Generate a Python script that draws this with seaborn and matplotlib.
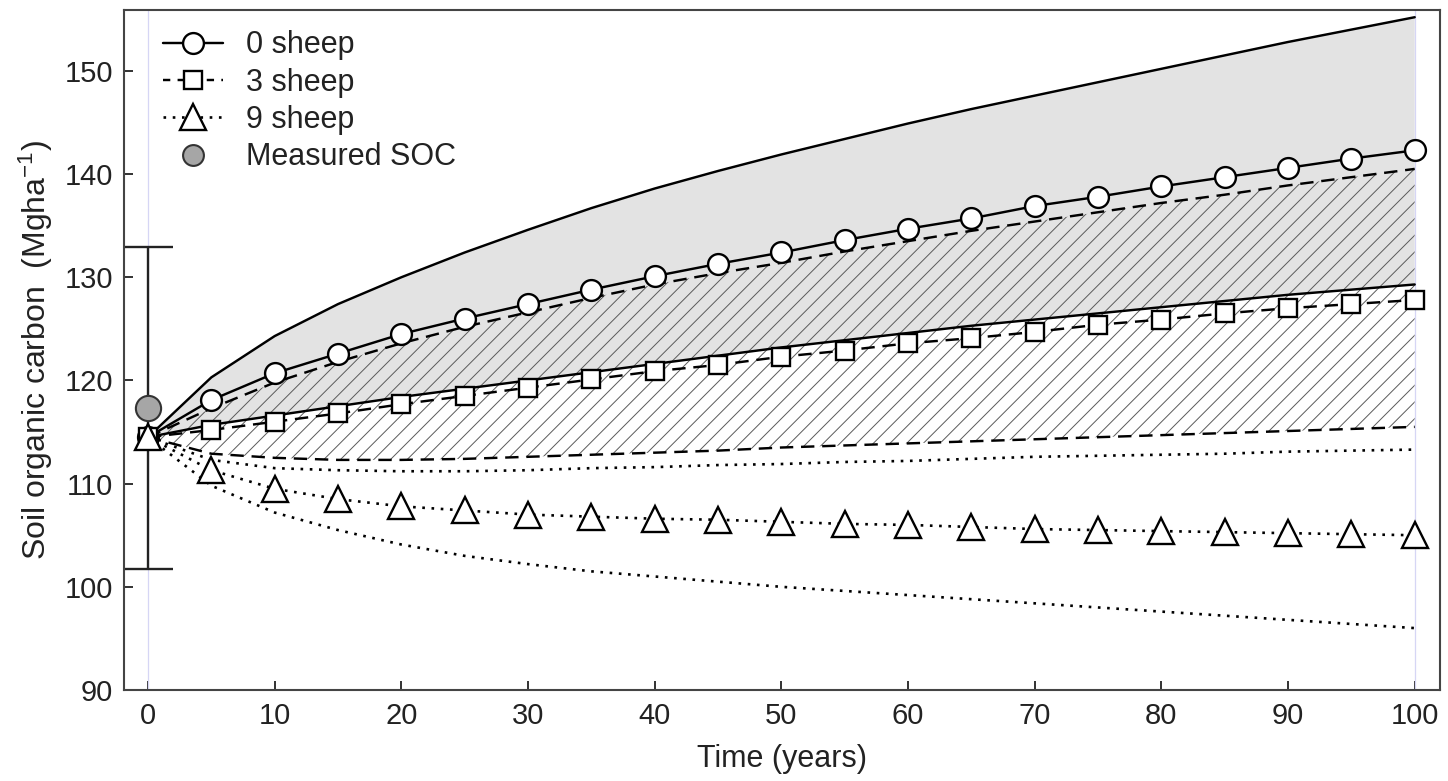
import numpy as np
import pandas as pd
import matplotlib
matplotlib.use("Agg")
import matplotlib.pyplot as plt
from matplotlib.lines import Line2D
import seaborn as sns

# ---------------- data ----------------
years = [0, 5, 10, 15, 20, 25, 30, 35, 40, 45, 50, 55, 60, 65, 70, 75, 80, 85, 90, 95, 100]

sheep0_mean = [114.5, 118.1, 120.7, 122.6, 124.5, 126.0, 127.4, 128.8, 130.1, 131.3, 132.4,
               133.6, 134.7, 135.7, 136.9, 137.8, 138.8, 139.7, 140.6, 141.5, 142.3]
sheep0_upper = [114.5, 120.3, 124.3, 127.4, 130.0, 132.4, 134.6, 136.7, 138.6, 140.3, 141.9,
                143.4, 144.9, 146.3, 147.6, 148.9, 150.2, 151.5, 152.8, 154.0, 155.2]
sheep0_lower = [114.5, 115.7, 116.6, 117.5, 118.4, 119.2, 120.0, 120.8, 121.6, 122.4, 123.2,
                123.9, 124.6, 125.3, 125.9, 126.5, 127.1, 127.7, 128.3, 128.8, 129.3]

sheep3_mean = [114.5, 115.2, 116.0, 116.8, 117.7, 118.5, 119.3, 120.1, 120.9, 121.5, 122.3,
               122.9, 123.6, 124.1, 124.7, 125.4, 125.9, 126.5, 127.0, 127.4, 127.8]
sheep3_upper = [114.5, 117.3, 119.8, 121.8, 123.6, 125.2, 126.6, 128.0, 129.3, 130.4, 131.4,
                132.5, 133.5, 134.5, 135.4, 136.3, 137.2, 138.0, 138.9, 139.7, 140.5]
sheep3_lower = [114.5, 112.9, 112.5, 112.3, 112.3, 112.4, 112.6, 112.8, 113.0, 113.2, 113.5,
                113.7, 113.9, 114.1, 114.3, 114.5, 114.7, 114.9, 115.1, 115.3, 115.5]

sheep9_mean = [114.5, 111.3, 109.5, 108.5, 107.8, 107.4, 107.0, 106.8, 106.6, 106.5, 106.3,
               106.1, 106.0, 105.8, 105.6, 105.5, 105.4, 105.3, 105.2, 105.1, 105.0]
sheep9_upper = [114.5, 112.3, 111.5, 111.3, 111.2, 111.2, 111.3, 111.5, 111.6, 111.8, 111.9,
                112.1, 112.2, 112.4, 112.6, 112.7, 112.8, 112.9, 113.1, 113.2, 113.3]
sheep9_lower = [114.5, 109.8, 107.2, 105.5, 104.1, 103.0, 102.2, 101.5, 101.0, 100.5, 100.0,
                99.6, 99.2, 98.8, 98.4, 98.0, 97.6, 97.2, 96.8, 96.4, 96.0]

measured_year = [0]
measured_soc = [117.3]
measured_err = [15.6]

series_labels = ["0 sheep", "3 sheep", "9 sheep", "Measured SOC"]
x_ticks = [0, 10, 20, 30, 40, 50, 60, 70, 80, 90, 100]
y_ticks = [90, 100, 110, 120, 130, 140, 150]

# ---------------- style ----------------
sns.set_style("ticks")
plt.rcParams["font.family"] = ["Liberation Sans", "DejaVu Sans"]
plt.rcParams["mathtext.default"] = "regular"
plt.rcParams["hatch.linewidth"] = 0.7
plt.rcParams["hatch.color"] = "#5a5a5a"

fig = plt.figure(figsize=(14.48, 7.81), dpi=100)
ax = fig.add_axes([0.0856, 0.1165, 0.9089, 0.8707])

LW = 1.75
LWD = 1.9
dash = (0, (5.5, 3.2))
dot = (0, (1.0, 2.5))
TXT = "#222222"

# bands
ax.fill_between(years, sheep0_lower, sheep0_upper, facecolor="#e3e3e3", edgecolor="none",
                linewidth=0, zorder=1)
ax.fill_between(years, sheep3_lower, sheep3_upper, facecolor="none", edgecolor="#5a5a5a",
                hatch="//", linewidth=0, zorder=1.5)

# faint boundary verticals
ax.axvline(0, color="#d6d6f5", lw=0.9, zorder=1.6)
ax.axvline(100, color="#d6d6f5", lw=0.9, zorder=1.6)

# bound lines
for y, ls in [(sheep0_upper, "-"), (sheep0_lower, "-"),
              (sheep3_upper, dash), (sheep3_lower, dash),
              (sheep9_upper, dot), (sheep9_lower, dot)]:
    sns.lineplot(x=years, y=y, ax=ax, color="black", linestyle=ls,
                 linewidth=(LWD if ls is dot else LW), zorder=2, legend=False)

# measured SOC
ax.errorbar(measured_year, measured_soc, yerr=measured_err, fmt="none", ecolor=TXT,
            elinewidth=1.7, capsize=18, capthick=1.7, zorder=2.5)
sns.scatterplot(x=measured_year, y=measured_soc, ax=ax, s=330, color="#a6a6a6",
                edgecolor="#333333", linewidth=1.5, zorder=3, legend=False)

# mean lines with markers
mean_specs = [
    (sheep0_mean, "-", "o", 15),
    (sheep3_mean, dash, "s", 13),
    (sheep9_mean, dot, "^", 19),
]
for y, ls, mk, ms in mean_specs:
    sns.lineplot(x=years, y=y, ax=ax, color="black", linestyle=ls,
                 linewidth=(LWD if ls is dot else LW),
                 marker=mk, markersize=ms, markerfacecolor="white",
                 markeredgecolor="black", markeredgewidth=1.7, zorder=4, legend=False)

# axes
ax.set_xlim(-1.9, 102)
ax.set_ylim(90, 155.9)
ax.set_xticks(x_ticks)
ax.set_yticks(y_ticks)
ax.tick_params(direction="in", length=6.5, width=1.3, labelsize=21, colors=TXT)
ax.tick_params(axis="y", pad=8)
ax.tick_params(axis="x", pad=8.5)
for sp in ax.spines.values():
    sp.set_visible(True)
    sp.set_color("#444444")
    sp.set_linewidth(1.5)

ax.set_xlabel("Time (years)", fontsize=22, labelpad=10, color=TXT)
ax.set_ylabel("Soil organic carbon  (Mgha$^{-1}$)", fontsize=23, labelpad=7, color=TXT)

# legend
handles = [
    Line2D([], [], color="black", linestyle="-", lw=LW, marker="o", markersize=15,
           markerfacecolor="white", markeredgecolor="black", markeredgewidth=1.7),
    Line2D([], [], color="black", linestyle=(0, (3, 3)), lw=LW, marker="s", markersize=13,
           markerfacecolor="white", markeredgecolor="black", markeredgewidth=1.7),
    Line2D([], [], color="black", linestyle=dot, lw=LWD, marker="^", markersize=19,
           markerfacecolor="white", markeredgecolor="black", markeredgewidth=1.7),
    Line2D([], [], color="none", marker="o", markersize=15, markerfacecolor="#a6a6a6",
           markeredgecolor="#333333", markeredgewidth=1.5),
]
leg = ax.legend(handles, series_labels, loc="upper left", bbox_to_anchor=(0.016, 0.997),
                frameon=False, fontsize=22, handlelength=1.95, handletextpad=0.75,
                labelspacing=0.24, borderaxespad=0.2)
for t in leg.get_texts():
    t.set_color(TXT)

fig.savefig("out.png", dpi=100)
